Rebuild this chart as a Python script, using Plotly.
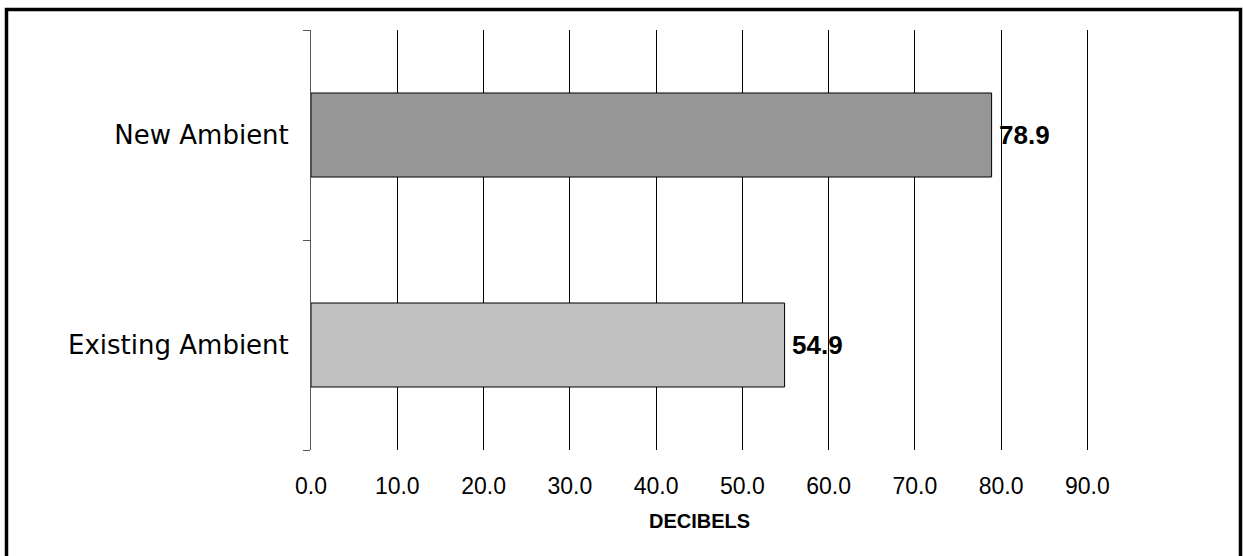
import plotly.graph_objects as go

categories = ["Existing Ambient", "New Ambient"]
values = [54.9, 78.9]
bar_colors = ["#c0c0c0", "#969696"]
x_ticks = [0, 10, 20, 30, 40, 50, 60, 70, 80, 90]
x_ticklabels = ["0.0", "10.0", "20.0", "30.0", "40.0", "50.0", "60.0", "70.0", "80.0", "90.0"]
x_title = "DECIBELS"

W, H = 1243, 556
XMAX = 91
L, T, B = 311, 30, 556 - 450
pw_target = (1087 - 311) * XMAX / 90
R = W - L - round(pw_target)
pw, ph = W - L - R, H - T - B

fig = go.Figure(go.Bar(
    x=values, y=categories, orientation="h",
    marker=dict(color=bar_colors, line=dict(color="black", width=1)),
    width=0.4,
    cliponaxis=False,
))

for v, c in zip(values, categories):
    fig.add_annotation(
        x=v, y=c, xref="x", yref="y", text=f"<b>{v:.1f}</b>",
        showarrow=False, xanchor="left", xshift=5,
        font=dict(family="Liberation Sans, Arial", size=26, color="black"),
    )

def px_x(p):
    return (p - L) / pw

def px_y(p):
    return (H - B - p) / ph

fig.add_annotation(
    x=px_x(699), y=px_y(521), xref="paper", yref="paper",
    text=f"<b>{x_title}</b>", showarrow=False, xanchor="center", yanchor="middle",
    font=dict(family="Liberation Sans, Arial", size=20, color="black"),
)

fig.update_layout(
    width=W, height=H,
    margin=dict(l=L, r=R, t=T, b=B, pad=0),
    plot_bgcolor="white", paper_bgcolor="white",
    showlegend=False,
    xaxis=dict(
        range=[0, XMAX], tickvals=x_ticks, ticktext=x_ticklabels,
        showgrid=True, gridcolor="black", gridwidth=1,
        zeroline=False, showline=False, ticks="",
        ticklabelstandoff=20,
        tickfont=dict(family="Liberation Sans, Arial", size=23, color="black"),
    ),
    yaxis=dict(
        range=[-0.5, 1.5], categoryorder="array", categoryarray=categories,
        showgrid=False, zeroline=False,
        showline=True, linecolor="#555555", linewidth=1,
        ticks="outside", tickson="boundaries", ticklen=7, tickcolor="#555555",
        ticklabelstandoff=16,
        tickfont=dict(family="DejaVu Sans", size=26, color="black"),
    ),
    shapes=[dict(
        type="rect", xref="paper", yref="paper",
        x0=px_x(6.5), x1=px_x(1240.5), y0=px_y(570), y1=px_y(9.5),
        line=dict(color="black", width=3.5), fillcolor="rgba(0,0,0,0)",
        layer="above",
    )],
)

fig.write_html(
    "out.html",
    config={"displayModeBar": False},
    post_script="document.body.style.margin='0';document.body.style.overflow='hidden';",
)
